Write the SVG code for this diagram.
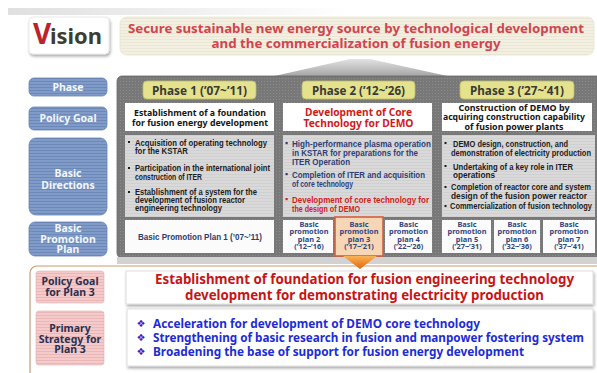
<svg xmlns="http://www.w3.org/2000/svg" width="597" height="373" viewBox="0 0 597 373">
<defs>
<style>
.sans{font-family:"Noto Sans","DejaVu Sans",sans-serif;font-weight:bold}
.lib{font-family:"Liberation Sans","Noto Sans",sans-serif;font-weight:bold}
.mid{text-anchor:middle}
.lbl{font-size:10.5px;fill:#f3f6fc}
.ph{font-size:11.5px;fill:#3a3a36}
.pg{font-size:9.2px;fill:#151515}
.pg3{font-size:8.5px;fill:#151515}
.bd1{font-size:9.2px;fill:#1c1c1c}
.bd2{font-size:9.6px;fill:#2d3e78}
.bdr{font-size:9.6px;fill:#d52020}
.bd3{font-size:9.2px;fill:#1c1c1c}
.pp{font-size:7.4px;fill:#33467e}
.pk{font-size:10.5px;fill:#2a3050}
.goal{font-size:13.5px;fill:#c81414}
.strat{font-size:12px;fill:#1c2cd6}
.dia{font-family:"DejaVu Sans",sans-serif;font-size:10px;fill:#1c2cd6;text-anchor:middle}
.blue{fill:url(#blueStripe);stroke:#6a84b2;stroke-width:0.8}
.pink{fill:url(#pinkStripe);stroke:#e2b0b0;stroke-width:0.6}
.phase{fill:#e4e28c;stroke:#bebc6a;stroke-width:0.8}
.white{fill:#ffffff}
.bdbox{fill:url(#lightStripe)}
.plan{fill:#fbfbfb}
</style>
<pattern id="blueStripe" width="4" height="3" patternUnits="userSpaceOnUse">
<rect width="4" height="3" fill="#809bc8"/><rect width="4" height="1" fill="#6c88b8"/>
</pattern>
<pattern id="pinkStripe" width="3" height="3" patternUnits="userSpaceOnUse">
<rect width="3" height="3" fill="#f4caca"/><rect width="3" height="1" fill="#eab6b6"/>
</pattern>
<pattern id="grayDots" width="3" height="3" patternUnits="userSpaceOnUse">
<rect width="3" height="3" fill="#787878"/><rect width="1" height="1" fill="#8c8c8c"/>
</pattern>
<pattern id="lightStripe" width="3" height="3" patternUnits="userSpaceOnUse">
<rect width="3" height="3" fill="#d9d9d9"/><rect width="3" height="1" fill="#d0d0d0"/>
</pattern>
<pattern id="bannerStripe" width="3" height="3" patternUnits="userSpaceOnUse">
<rect width="3" height="3" fill="#f3f0e2"/><rect width="3" height="1" fill="#ebe7d6"/>
</pattern>
<linearGradient id="roofG" x1="0" y1="0" x2="0" y2="1">
<stop offset="0" stop-color="#e2e2e2"/><stop offset="1" stop-color="#a2a2a2"/>
</linearGradient>
<linearGradient id="topBand" x1="0" y1="0" x2="1" y2="0">
<stop offset="0" stop-color="#dcdcdc" stop-opacity="0.9"/><stop offset="1" stop-color="#dcdcdc" stop-opacity="0"/>
</linearGradient>
<linearGradient id="arrowG" x1="0" y1="0" x2="0" y2="1">
<stop offset="0" stop-color="#f8b458"/><stop offset="1" stop-color="#e2640e"/>
</linearGradient>
<filter id="sh" x="-10%" y="-10%" width="130%" height="140%">
<feGaussianBlur in="SourceAlpha" stdDeviation="1.5"/>
<feOffset dx="1" dy="1.5" result="b"/>
<feComponentTransfer><feFuncA type="linear" slope="0.35"/></feComponentTransfer>
<feMerge><feMergeNode/><feMergeNode in="SourceGraphic"/></feMerge>
</filter>
</defs>

<rect width="597" height="373" fill="#ffffff"/>
<rect x="8" y="8" width="340" height="7" fill="url(#topBand)"/>

<!-- Header -->
<g id="vision">
<rect x="29" y="17" width="80" height="37" rx="4" fill="#ffffff" stroke="#e4e4e4" stroke-width="0.8" filter="url(#sh)"/>
<text x="33" y="44" class="sans" font-size="28" fill="#c0202c">V</text>
<text x="50" y="44" class="sans" font-size="22" fill="#3c3c30" textLength="52" lengthAdjust="spacingAndGlyphs">ision</text>
</g>
<g id="banner">
<rect x="120" y="17" width="474" height="38" rx="7" fill="url(#bannerStripe)" stroke="#e6e2d2" stroke-width="0.8"/>
<text x="356" y="33" class="sans mid" font-size="13" fill="#d2444c" textLength="456" lengthAdjust="spacingAndGlyphs">Secure sustainable new energy source by technological development</text>
<text x="356" y="48" class="sans mid" font-size="13" fill="#d2444c" textLength="289" lengthAdjust="spacingAndGlyphs">and the commercialization of fusion energy</text>
</g>

<!-- Main panel -->
<g id="panel">
<path d="M270,77 L350,59 L370,59 L452,77 Z" fill="url(#roofG)"/>
<rect x="117" y="76" width="490" height="182" rx="5" fill="url(#grayDots)" stroke="#666666" stroke-width="0.8"/>
<rect x="117" y="257" width="480" height="7" fill="#d2d2d2"/>
</g>

<!-- Left labels -->
<g id="label-phase">
<rect x="29" y="78" width="78" height="18" rx="5" class="blue"/>
<text x="68" y="90.5" class="sans mid lbl">Phase</text>
</g>
<g id="label-policy-goal">
<rect x="29" y="107" width="78" height="23" rx="5" class="blue"/>
<text x="68" y="122" class="sans mid lbl">Policy Goal</text>
</g>
<g id="label-basic-directions">
<rect x="29" y="138" width="78" height="77" rx="7" class="blue"/>
<text x="68" y="177" class="sans mid lbl">Basic</text>
<text x="68" y="189" class="sans mid lbl">Directions</text>
</g>
<g id="label-basic-promotion-plan">
<rect x="29" y="222" width="78" height="34" rx="6" class="blue"/>
<text x="68" y="232" class="sans mid lbl">Basic</text>
<text x="68" y="242.5" class="sans mid lbl">Promotion</text>
<text x="68" y="253" class="sans mid lbl">Plan</text>
</g>

<!-- Phase headers -->
<g id="phase1">
<rect x="143" y="81" width="113" height="18" rx="4" class="phase"/>
<text x="199.5" y="94.5" class="sans mid ph" textLength="95" lengthAdjust="spacingAndGlyphs">Phase 1 (’07~’11)</text>
</g>
<g id="phase2">
<rect x="302" y="81" width="113" height="18" rx="4" class="phase"/>
<text x="358.5" y="94.5" class="sans mid ph" textLength="93" lengthAdjust="spacingAndGlyphs">Phase 2 (’12~’26)</text>
</g>
<g id="phase3">
<rect x="460" y="81" width="114" height="18" rx="4" class="phase"/>
<text x="517" y="94.5" class="sans mid ph" textLength="94" lengthAdjust="spacingAndGlyphs">Phase 3 (’27~’41)</text>
</g>

<!-- Policy goals -->
<g id="goal1">
<rect x="125" y="103" width="149" height="28" class="white"/>
<text x="200" y="116" class="sans mid pg" textLength="132" lengthAdjust="spacingAndGlyphs">Establishment of a foundation</text>
<text x="200" y="125.5" class="sans mid pg" textLength="136" lengthAdjust="spacingAndGlyphs">for fusion energy development</text>
</g>
<g id="goal2">
<rect x="283" y="103" width="149" height="28" class="white"/>
<text x="358.5" y="116" class="sans mid" font-size="11" fill="#d21a1a" textLength="107" lengthAdjust="spacingAndGlyphs">Development of Core</text>
<text x="358.5" y="126.5" class="sans mid" font-size="11" fill="#d21a1a" textLength="110" lengthAdjust="spacingAndGlyphs">Technology for DEMO</text>
</g>
<g id="goal3">
<rect x="442" y="103" width="150" height="28" class="white"/>
<text x="514" y="110.5" class="sans mid pg3" textLength="111" lengthAdjust="spacingAndGlyphs">Construction of DEMO by</text>
<text x="514" y="120" class="sans mid pg3" textLength="142" lengthAdjust="spacingAndGlyphs">acquiring construction capability</text>
<text x="514" y="129.5" class="sans mid pg3" textLength="99" lengthAdjust="spacingAndGlyphs">of fusion power plants</text>
</g>

<!-- Basic directions -->
<g id="directions1">
<rect x="125" y="135" width="149" height="82" class="bdbox"/>
<rect x="128" y="141" width="2" height="2" fill="#1c1c1c"/>
<text x="135" y="145.5" class="lib bd1" textLength="132" lengthAdjust="spacingAndGlyphs">Acquisition of operating technology</text>
<text x="135" y="154" class="lib bd1" textLength="53" lengthAdjust="spacingAndGlyphs">for the KSTAR</text>
<rect x="128" y="167" width="2" height="2" fill="#1c1c1c"/>
<text x="135" y="171" class="lib bd1" textLength="135" lengthAdjust="spacingAndGlyphs">Participation in the international joint</text>
<text x="135" y="180" class="lib bd1" textLength="67" lengthAdjust="spacingAndGlyphs">construction of ITER</text>
<rect x="128" y="191" width="2" height="2" fill="#1c1c1c"/>
<text x="135" y="195" class="lib bd1" textLength="122" lengthAdjust="spacingAndGlyphs">Establishment of a system for the</text>
<text x="135" y="203" class="lib bd1" textLength="110" lengthAdjust="spacingAndGlyphs">development of fusion reactor</text>
<text x="135" y="211" class="lib bd1" textLength="87" lengthAdjust="spacingAndGlyphs">engineering technology</text>
</g>
<g id="directions2">
<rect x="283" y="135" width="149" height="82" class="bdbox"/>
<rect x="285.5" y="142" width="2.2" height="2.2" fill="#2d3e78"/>
<text x="292" y="146.5" class="lib bd2" textLength="139" lengthAdjust="spacingAndGlyphs">High-performance plasma  operation</text>
<text x="292" y="156" class="lib bd2" textLength="126" lengthAdjust="spacingAndGlyphs">in KSTAR for preparations for the</text>
<text x="292" y="164.5" class="lib bd2" textLength="58" lengthAdjust="spacingAndGlyphs">ITER Operation</text>
<rect x="285.5" y="173" width="2.2" height="2.2" fill="#2d3e78"/>
<text x="292" y="177.5" class="lib bd2" textLength="133" lengthAdjust="spacingAndGlyphs">Completion of ITER and acquisition</text>
<text x="292" y="187" class="lib bd2" textLength="61" lengthAdjust="spacingAndGlyphs">of core technology</text>
<rect x="285.5" y="198" width="2.2" height="2.2" fill="#d52020"/>
<text x="292" y="202.5" class="lib bdr" textLength="137" lengthAdjust="spacingAndGlyphs">Development of core technology for</text>
<text x="292" y="211.5" class="lib bdr" textLength="68" lengthAdjust="spacingAndGlyphs">the design of DEMO</text>
</g>
<g id="directions3">
<rect x="442" y="135" width="153" height="82" class="bdbox"/>
<rect x="444.5" y="142" width="2" height="2" fill="#1c1c1c"/>
<text x="453" y="146.5" class="lib bd3" textLength="115" lengthAdjust="spacingAndGlyphs">DEMO design, construction, and</text>
<text x="451" y="156" class="lib bd3" textLength="140" lengthAdjust="spacingAndGlyphs">demonstration of electricity production</text>
<rect x="444.5" y="165" width="2" height="2" fill="#1c1c1c"/>
<text x="453" y="169.5" class="lib bd3" textLength="120" lengthAdjust="spacingAndGlyphs">Undertaking of a  key role in ITER</text>
<text x="453" y="177.5" class="lib bd3" textLength="42" lengthAdjust="spacingAndGlyphs">operations</text>
<rect x="444.5" y="186" width="2" height="2" fill="#1c1c1c"/>
<text x="451" y="190" class="lib bd3" textLength="140" lengthAdjust="spacingAndGlyphs">Completion of reactor core and system</text>
<text x="451" y="199" class="lib bd3" textLength="136" lengthAdjust="spacingAndGlyphs">design of the  fusion power reactor</text>
<rect x="444.5" y="205" width="2" height="2" fill="#1c1c1c"/>
<text x="450" y="209" class="lib bd3" textLength="142" lengthAdjust="spacingAndGlyphs">Commercialization of fusion technology</text>
</g>

<!-- Promotion plans -->
<g id="plan1">
<rect x="125" y="220" width="149" height="33" class="plan"/>
<text x="200" y="240" class="lib mid" font-size="9.5" fill="#2c3c70" textLength="124" lengthAdjust="spacingAndGlyphs">Basic Promotion Plan 1 (’07~’11)</text>
</g>
<g id="plan2">
<rect x="283" y="220" width="50" height="33" class="plan"/>
<text x="309" y="227" class="sans mid pp">Basic</text>
<text x="309" y="234.3" class="sans mid pp" textLength="39" lengthAdjust="spacingAndGlyphs">promotion</text>
<text x="309" y="241.8" class="sans mid pp">plan 2</text>
<text x="309" y="248.8" class="sans mid pp">(’12~’16)</text>
</g>
<g id="plan3">
<rect x="335" y="217" width="48" height="39" fill="#f7d6b6" stroke="#d4603e" stroke-width="1.6"/>
<text x="359" y="227" class="sans mid pp">Basic</text>
<text x="359" y="234.3" class="sans mid pp" textLength="39" lengthAdjust="spacingAndGlyphs">promotion</text>
<text x="359" y="241.8" class="sans mid pp">plan 3</text>
<text x="359" y="248.8" class="sans mid pp">(’17~’21)</text>
</g>
<g id="plan4">
<rect x="385" y="220" width="47" height="33" class="plan"/>
<text x="408.5" y="227" class="sans mid pp">Basic</text>
<text x="408.5" y="234.3" class="sans mid pp" textLength="39" lengthAdjust="spacingAndGlyphs">promotion</text>
<text x="408.5" y="241.8" class="sans mid pp">plan 4</text>
<text x="408.5" y="248.8" class="sans mid pp">(’22~’26)</text>
</g>
<g id="plan5">
<rect x="442" y="220" width="49" height="33" class="plan"/>
<text x="467" y="227" class="sans mid pp">Basic</text>
<text x="467" y="234.3" class="sans mid pp" textLength="39" lengthAdjust="spacingAndGlyphs">promotion</text>
<text x="467" y="241.8" class="sans mid pp">plan 5</text>
<text x="467" y="248.8" class="sans mid pp">(’27~’31)</text>
</g>
<g id="plan6">
<rect x="494" y="220" width="46" height="33" class="plan"/>
<text x="517" y="227" class="sans mid pp">Basic</text>
<text x="517" y="234.3" class="sans mid pp" textLength="39" lengthAdjust="spacingAndGlyphs">promotion</text>
<text x="517" y="241.8" class="sans mid pp">plan 6</text>
<text x="517" y="248.8" class="sans mid pp">(’32~’36)</text>
</g>
<g id="plan7">
<rect x="543" y="220" width="52" height="33" class="plan"/>
<text x="569" y="227" class="sans mid pp">Basic</text>
<text x="569" y="234.3" class="sans mid pp" textLength="39" lengthAdjust="spacingAndGlyphs">promotion</text>
<text x="569" y="241.8" class="sans mid pp">plan 7</text>
<text x="569" y="248.8" class="sans mid pp">(’37~’41)</text>
</g>

<!-- Bottom section -->
<g id="plan3-detail">
<rect x="30" y="266" width="580" height="120" rx="7" fill="#ffffff" stroke="#c99a70" stroke-width="1.2"/>
</g>
<g id="label-goal-plan3">
<rect x="36" y="271" width="68" height="32" rx="3" class="pink"/>
<text x="70" y="285" class="sans mid pk">Policy Goal</text>
<text x="70" y="295.5" class="sans mid pk">for Plan 3</text>
</g>
<g id="label-strategy-plan3">
<rect x="36" y="311" width="68" height="54" rx="3" class="pink"/>
<text x="70" y="332" class="sans mid pk">Primary</text>
<text x="70" y="342.5" class="sans mid pk">Strategy for</text>
<text x="70" y="353" class="sans mid pk">Plan 3</text>
</g>
<g id="goal-plan3">
<rect x="126" y="271" width="467" height="33" fill="#ffffff" stroke="#d6d6d6" stroke-width="0.8" filter="url(#sh)"/>
<text x="364.5" y="284" class="sans mid goal" textLength="419" lengthAdjust="spacingAndGlyphs">Establishment of foundation for fusion engineering technology</text>
<text x="364.5" y="300" class="sans mid goal" textLength="359" lengthAdjust="spacingAndGlyphs">development for demonstrating electricity production</text>
</g>
<g id="strategy-plan3">
<rect x="127" y="309" width="466" height="57" fill="#ffffff" stroke="#d6d6d6" stroke-width="0.8" filter="url(#sh)"/>
<text x="141" y="327" class="dia">❖</text>
<text x="153" y="327.5" class="sans strat" textLength="327" lengthAdjust="spacingAndGlyphs">Acceleration for development of DEMO core technology</text>
<text x="141" y="341" class="dia">❖</text>
<text x="153" y="341.5" class="sans strat" textLength="431" lengthAdjust="spacingAndGlyphs">Strengthening of basic research in fusion and manpower fostering system</text>
<text x="141" y="355" class="dia">❖</text>
<text x="153" y="355.5" class="sans strat" textLength="371" lengthAdjust="spacingAndGlyphs">Broadening the base of support for fusion energy development</text>
</g>

<!-- Connectors -->
<g id="connectors">
<path d="M343,256 L377,256 L360,269 Z" fill="url(#arrowG)"/>
</g>
</svg>
